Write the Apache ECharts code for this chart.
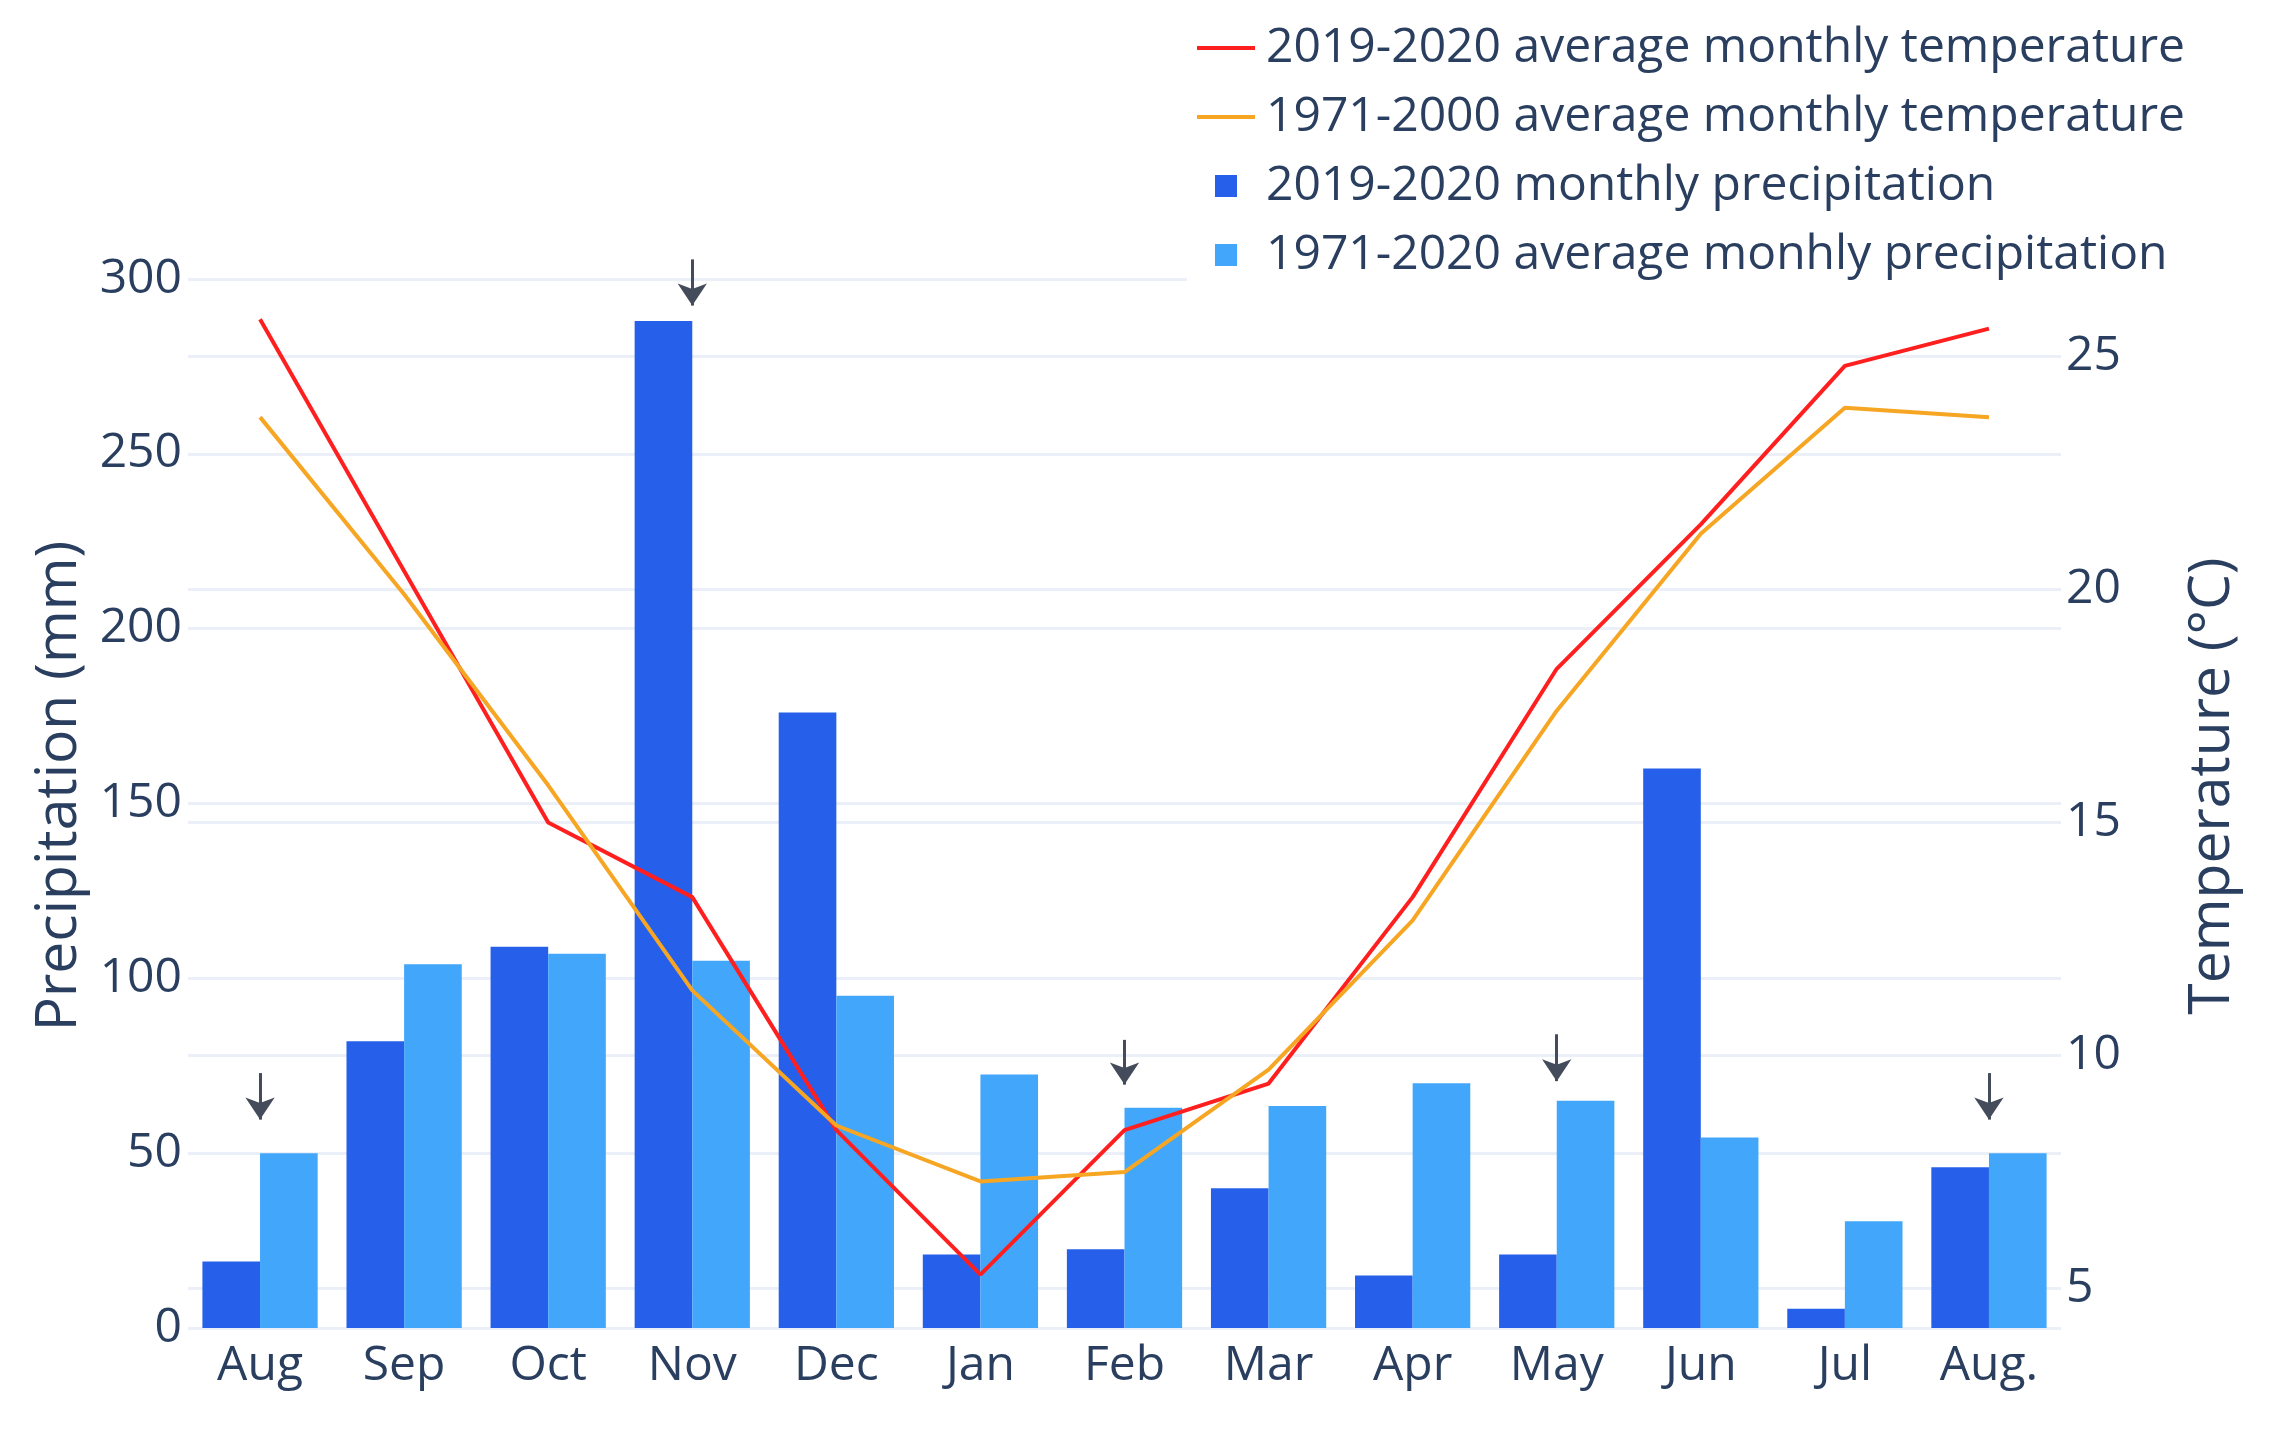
<!DOCTYPE html>
<html>
<head>
<meta charset="utf-8">
<script src="https://cdn.jsdelivr.net/npm/echarts@6/dist/echarts.min.js"></script>
<style>
html,body{margin:0;padding:0;background:#fff;}
#chart{width:2294px;height:1429px;}
</style>
</head>
<body>
<div id="chart"></div>
<script>
var months = ['Aug','Sep','Oct','Nov','Dec','Jan','Feb','Mar','Apr','May','Jun','Jul','Aug.'];
var precip2019 = [19, 82, 109, 288, 176, 21, 22.5, 40, 15, 21, 160, 5.5, 46];
var precipAvg = [50, 104, 107, 105, 95, 72.5, 63, 63.5, 70, 65, 54.5, 30.5, 50];
var temp2019 = [25.8, 20.4, 15.0, 13.4, 8.4, 5.3, 8.4, 9.4, 13.4, 18.3, 21.4, 24.8, 25.6];
var temp1971 = [23.7, 19.9, 15.8, 11.4, 8.5, 7.3, 7.5, 9.7, 12.9, 17.4, 21.2, 23.9, 23.7];
var precipTicks = [0, 50, 100, 150, 200, 250, 300];
var tempTicks = [5, 10, 15, 20, 25];
var arrowMonths = ['Aug', 'Nov', 'Feb', 'May', 'Aug.'];
var arrowFrom = [72.9, 305.6, 82.4, 84.0, 72.9];
var arrowTo = [59.6, 292.4, 69.6, 70.6, 59.6];

var names = ['2019-2020 average monthly temperature', '1971-2000 average monthly temperature',
             '2019-2020 monthly precipitation', '1971-2020 average monhly precipitation'];

var TXT = '#2a3f5f', GRID = '#ebf0f8', FONT = '"Open Sans", sans-serif';

var arrowData = arrowMonths.map(function (m, i) {
  return [{coord: [m, arrowFrom[i]]}, {coord: [m, arrowTo[i]]}];
});

var chart = echarts.init(document.getElementById('chart'), null, {renderer: 'canvas'});
chart.setOption({
  animation: false,
  backgroundColor: '#fff',
  textStyle: {fontFamily: FONT},
  grid: {left: 188, right: 233, top: 244, bottom: 101, containLabel: false},
  legend: {
    orient: 'vertical',
    left: 1187, top: 14,
    padding: [10, 10, 12, 10],
    backgroundColor: '#fff',
    itemWidth: 58, itemHeight: 22, itemGap: 21,
    textStyle: {fontSize: 48, color: TXT, fontFamily: FONT, lineHeight: 48, padding: [0, 0, 0, 6]},
    data: [
      {name: names[0], icon: 'path://M0,0H58V4H0Z'},
      {name: names[1], icon: 'path://M0,0H58V4H0Z'},
      {name: names[2], icon: 'path://M0,0H10V10H0Z'},
      {name: names[3], icon: 'path://M0,0H10V10H0Z'}
    ],
    selectedMode: false
  },
  xAxis: {
    type: 'category', data: months,
    axisLine: {show: false}, axisTick: {show: false},
    axisLabel: {fontSize: 48, color: TXT, fontFamily: FONT, margin: 14},
    splitLine: {show: false}
  },
  yAxis: [{
    type: 'value', min: 0, max: 310, interval: 50,
    name: 'Precipitation (mm)', nameLocation: 'middle', nameGap: 96,
    nameTextStyle: {fontSize: 57, color: TXT, fontFamily: FONT},
    axisLine: {show: false}, axisTick: {show: false},
    axisLabel: {fontSize: 48, color: TXT, fontFamily: FONT, margin: 6, customValues: precipTicks},
    splitLine: {show: false}
  }, {
    type: 'value', min: 4.155, max: 27.415,
    name: 'Temperature (°C)', nameLocation: 'middle', nameGap: 123,
    nameTextStyle: {fontSize: 57, color: TXT, fontFamily: FONT},
    axisLine: {show: false}, axisTick: {show: false},
    axisLabel: {fontSize: 48, color: TXT, fontFamily: FONT, margin: 5, customValues: tempTicks},
    splitLine: {show: false}
  }],
  series: [{
    name: 'gridLeft', type: 'line', yAxisIndex: 0, data: [], z: 0, zlevel: 0, silent: true,
    markLine: {silent: true, z: 0, symbol: ['none', 'none'], label: {show: false},
      lineStyle: {color: GRID, width: 3, type: 'solid'},
      emphasis: {disabled: true},
      data: precipTicks.map(function (v) { return {yAxis: v}; })}
  }, {
    name: 'gridRight', type: 'line', yAxisIndex: 1, data: [], z: 0, zlevel: 0, silent: true,
    markLine: {silent: true, z: 0, symbol: ['none', 'none'], label: {show: false},
      lineStyle: {color: GRID, width: 3, type: 'solid'},
      emphasis: {disabled: true},
      data: tempTicks.map(function (v) { return {yAxis: v}; })}
  }, {
    name: names[2], type: 'bar', yAxisIndex: 0, data: precip2019, z: 2,
    itemStyle: {color: '#2660ea'}, barGap: '0%', barCategoryGap: '20%'
  }, {
    name: names[3], type: 'bar', yAxisIndex: 0, data: precipAvg, z: 2,
    itemStyle: {color: '#42a6fa'}, barGap: '0%', barCategoryGap: '20%'
  }, {
    name: names[0], type: 'line', yAxisIndex: 1, data: temp2019, z: 3,
    symbol: 'none', lineStyle: {color: '#ff1f1f', width: 4}, itemStyle: {color: '#ff1f1f'}
  }, {
    name: names[1], type: 'line', yAxisIndex: 1, data: temp1971, z: 3,
    symbol: 'none', lineStyle: {color: '#f7a623', width: 4}, itemStyle: {color: '#f7a623'}
  }, {
    name: 'arrows', type: 'line', yAxisIndex: 0, data: [], z: 4, silent: true,
    markLine: {silent: true, z: 4, symbol: ['none', 'arrow'], symbolSize: 22,
      label: {show: false}, emphasis: {disabled: true},
      lineStyle: {color: '#444b5a', width: 3, type: 'solid'},
      data: arrowData}
  }]
});
</script>
</body>
</html>
